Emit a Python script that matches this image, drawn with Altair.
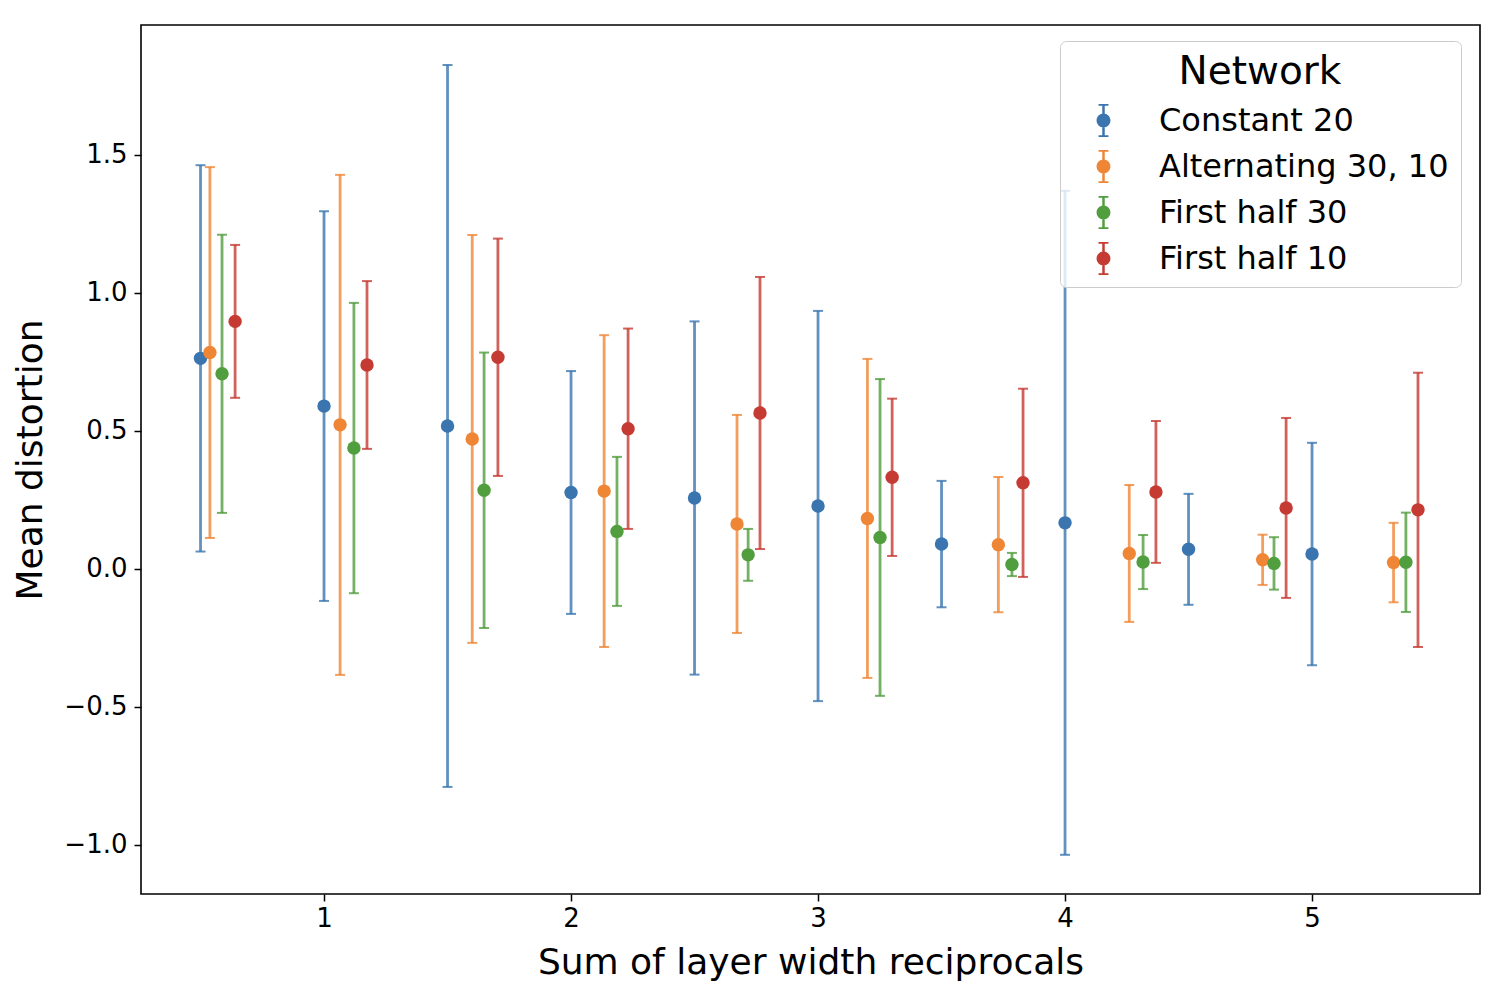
import altair as alt
import pandas as pd

series_names = ["Constant 20", "Alternating 30, 10", "First half 30", "First half 10"]
series_colors = ["#3a75af", "#ef8636", "#519e3e", "#c53a32"]

x_const = [0.5, 1.0, 1.5, 2.0, 2.5, 3.0, 3.5, 4.0, 4.5, 5.0]
mean_const = [0.763, 0.59, 0.518, 0.277, 0.257, 0.228, 0.09, 0.167, 0.071, 0.054]
err_const = [0.70, 0.706, 1.308, 0.44, 0.64, 0.707, 0.229, 1.203, 0.201, 0.403]

x_alt = [0.538, 1.065, 1.6, 2.134, 2.672, 3.2, 3.73, 4.26, 4.80, 5.33]
mean_alt = [0.784, 0.522, 0.471, 0.282, 0.163, 0.183, 0.088, 0.056, 0.033, 0.023]
err_alt = [0.672, 0.906, 0.739, 0.565, 0.395, 0.578, 0.245, 0.248, 0.091, 0.144]

x_h30 = [0.587, 1.121, 1.648, 2.186, 2.717, 3.251, 3.785, 4.316, 4.846, 5.38]
mean_h30 = [0.707, 0.438, 0.285, 0.136, 0.051, 0.114, 0.016, 0.025, 0.02, 0.024]
err_h30 = [0.504, 0.526, 0.499, 0.27, 0.094, 0.574, 0.042, 0.098, 0.095, 0.18]

x_h10 = [0.64, 1.174, 1.704, 2.231, 2.765, 3.30, 3.83, 4.368, 4.895, 5.429]
mean_h10 = [0.897, 0.739, 0.767, 0.508, 0.565, 0.332, 0.312, 0.279, 0.221, 0.214]
err_h10 = [0.277, 0.304, 0.43, 0.363, 0.493, 0.285, 0.341, 0.257, 0.326, 0.497]

x_ticks = [1, 2, 3, 4, 5]
y_ticks = [-1.0, -0.5, 0.0, 0.5, 1.0, 1.5]

rows = []
for name, xs, ms, es in zip(series_names,
                            [x_const, x_alt, x_h30, x_h10],
                            [mean_const, mean_alt, mean_h30, mean_h10],
                            [err_const, err_alt, err_h30, err_h10]):
    for xv, mv, ev in zip(xs, ms, es):
        rows.append({"Network": name, "x": xv, "mean": mv,
                     "lo": mv - ev, "hi": mv + ev})
df = pd.DataFrame(rows)

xscale = alt.Scale(domain=[0.259, 5.68], nice=False, zero=False)
yscale = alt.Scale(domain=[-1.178, 1.971], nice=False, zero=False)
cscale = alt.Scale(domain=series_names, range=series_colors)

legend_symbol = (
    "M0.42,0 A0.42,0.42 0 1,1 -0.42,0 A0.42,0.42 0 1,1 0.42,0 Z "
    "M-0.075,-1 L0.075,-1 L0.075,1 L-0.075,1 Z "
    "M-0.3,-1 L0.3,-1 L0.3,-0.89 L-0.3,-0.89 Z "
    "M-0.3,0.89 L0.3,0.89 L0.3,1 L-0.3,1 Z"
)

x_enc = alt.X("x:Q", scale=xscale,
              axis=alt.Axis(values=x_ticks, format="d",
                            title="Sum of layer width reciprocals"))
y_axis = alt.Axis(values=y_ticks, title="Mean distortion",
                  labelExpr="replace(format(datum.value, '.1f'), '-', '\u2212')")

legend = alt.Legend(
    title="Network", orient="none",
    legendX=919, legendY=16,
    symbolType=legend_symbol, symbolSize=1089,
    symbolStrokeWidth=0, symbolOpacity=1,
    titleFontSize=39, titleFontWeight="normal",
    titleAnchor="middle", titleColor="black", titleLimit=600,
    labelFontSize=32, labelColor="black", labelLimit=600,
    labelOffset=39, symbolOffset=15,
    rowPadding=13, padding=12, titlePadding=12,
    fillColor="rgba(255,255,255,0.8)",
    strokeColor="#cccccc", cornerRadius=6,
    labelFont="DejaVu Sans", titleFont="DejaVu Sans")

color_enc = alt.Color("Network:N", scale=cscale, sort=series_names, legend=legend)

base = alt.Chart(df)

bars = base.mark_rule(strokeWidth=2.8, opacity=0.8).encode(
    x=x_enc,
    y=alt.Y("lo:Q", scale=yscale, axis=y_axis),
    y2="hi:Q",
    color=color_enc,
)
caps_lo = base.mark_tick(orient="horizontal", size=10, thickness=2, opacity=0.8).encode(
    x="x:Q", y="lo:Q", color=color_enc,
)
caps_hi = base.mark_tick(orient="horizontal", size=10, thickness=2, opacity=0.8).encode(
    x="x:Q", y="hi:Q", color=color_enc,
)
points = base.mark_circle(size=180, opacity=1).encode(
    x="x:Q", y="mean:Q", color=color_enc,
)

chart = alt.layer(bars, caps_lo, caps_hi, points).properties(
    width=1339, height=869,
    autosize=alt.AutoSizeParams(type="none"),
    padding={"left": 133, "top": 17, "right": 6, "bottom": 100},
).configure_view(
    stroke="black", strokeWidth=1.6,
).configure_axis(
    grid=False, domain=False,
    ticks=True, tickSize=7, tickWidth=1.5, tickColor="black",
    labelFontSize=26, labelColor="black", labelFont="DejaVu Sans",
    titleFontSize=36, titleFontWeight="normal", titleColor="black",
    titleFont="DejaVu Sans",
).configure_axisX(
    labelPadding=4, titlePadding=14,
).configure_axisY(
    labelPadding=7, titlePadding=14,
)

chart.save("out.html", embed_options={"renderer": "svg", "actions": False})
